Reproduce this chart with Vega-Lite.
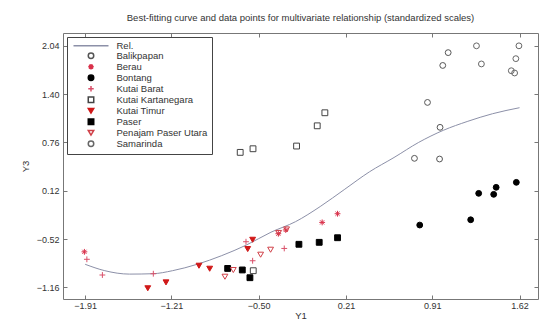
{
  "$schema": "https://vega.github.io/schema/vega-lite/v6.json",
  "width": 475,
  "height": 266,
  "autosize": {"type": "none"},
  "padding": {"left": 63, "top": 33, "right": 9, "bottom": 23},
  "background": "white",
  "title": {"text": "Best-fitting curve and data points for multivariate relationship (standardized scales)", "fontSize": 9.5, "font": "Liberation Sans", "fontWeight": "normal", "color": "#333", "offset": 10},
  "config": {
    "view": {"stroke": "#777", "strokeWidth": 1},
    "axis": {"labelFont": "Liberation Sans", "titleFont": "Liberation Sans", "labelFontSize": 9, "titleFontSize": 9.5, "titleFontWeight": "normal", "labelColor": "#333", "titleColor": "#333", "grid": false, "domain": false, "tickColor": "#777", "tickSize": -4},
    "legend": {"labelFont": "Liberation Sans", "labelFontSize": 9.5, "labelColor": "#333"}
  },
  "data": {"values": [
    {"series": "Rel.", "x": -1.91, "y": -0.855},
    {"series": "Rel.", "x": -1.75, "y": -0.94},
    {"series": "Rel.", "x": -1.55, "y": -0.985},
    {"series": "Rel.", "x": -1.36, "y": -0.98},
    {"series": "Rel.", "x": -1.2, "y": -0.94},
    {"series": "Rel.", "x": -1.0, "y": -0.855},
    {"series": "Rel.", "x": -0.8, "y": -0.74},
    {"series": "Rel.", "x": -0.6, "y": -0.6},
    {"series": "Rel.", "x": -0.4, "y": -0.43},
    {"series": "Rel.", "x": -0.2, "y": -0.29},
    {"series": "Rel.", "x": 0.0, "y": -0.09},
    {"series": "Rel.", "x": 0.2, "y": 0.14},
    {"series": "Rel.", "x": 0.4, "y": 0.37},
    {"series": "Rel.", "x": 0.6, "y": 0.56},
    {"series": "Rel.", "x": 0.8, "y": 0.76},
    {"series": "Rel.", "x": 1.0, "y": 0.92},
    {"series": "Rel.", "x": 1.2, "y": 1.04},
    {"series": "Rel.", "x": 1.4, "y": 1.14},
    {"series": "Rel.", "x": 1.62, "y": 1.22},
    {"series": "Balikpapan", "x": 0.766, "y": 0.549},
    {"series": "Balikpapan", "x": 0.97, "y": 0.54},
    {"series": "Balikpapan", "x": 0.974, "y": 0.96},
    {"series": "Balikpapan", "x": 0.872, "y": 1.29},
    {"series": "Balikpapan", "x": 0.996, "y": 1.78},
    {"series": "Balikpapan", "x": 1.04, "y": 1.95},
    {"series": "Berau", "x": -1.916, "y": -0.69},
    {"series": "Berau", "x": -0.34, "y": -0.45},
    {"series": "Berau", "x": -0.28, "y": -0.4},
    {"series": "Berau", "x": 0.016, "y": -0.3},
    {"series": "Berau", "x": 0.141, "y": -0.185},
    {"series": "Bontang", "x": 1.594, "y": 0.231},
    {"series": "Bontang", "x": 1.43, "y": 0.165},
    {"series": "Bontang", "x": 1.288, "y": 0.085},
    {"series": "Bontang", "x": 1.41, "y": 0.072},
    {"series": "Bontang", "x": 1.223, "y": -0.265},
    {"series": "Bontang", "x": 0.809, "y": -0.335},
    {"series": "Kutai Barat", "x": -1.896, "y": -0.789},
    {"series": "Kutai Barat", "x": -1.77, "y": -0.997},
    {"series": "Kutai Barat", "x": -1.356, "y": -0.98},
    {"series": "Kutai Barat", "x": -0.603, "y": -0.556},
    {"series": "Kutai Barat", "x": -0.549, "y": -0.808},
    {"series": "Kutai Barat", "x": -0.292, "y": -0.645},
    {"series": "Kutai Kartanegara", "x": 0.038, "y": 1.153},
    {"series": "Kutai Kartanegara", "x": -0.024, "y": 0.98},
    {"series": "Kutai Kartanegara", "x": -0.192, "y": 0.712},
    {"series": "Kutai Kartanegara", "x": -0.546, "y": 0.676},
    {"series": "Kutai Kartanegara", "x": -0.65, "y": 0.628},
    {"series": "Kutai Kartanegara", "x": -0.544, "y": -0.94},
    {"series": "Kutai Timur", "x": -1.401, "y": -1.173},
    {"series": "Kutai Timur", "x": -1.253, "y": -1.095},
    {"series": "Kutai Timur", "x": -0.985, "y": -0.874},
    {"series": "Kutai Timur", "x": -0.898, "y": -0.914},
    {"series": "Kutai Timur", "x": -0.589, "y": -0.653},
    {"series": "Kutai Timur", "x": -0.549, "y": -0.53},
    {"series": "Paser", "x": -0.752, "y": -0.91},
    {"series": "Paser", "x": -0.633, "y": -0.93},
    {"series": "Paser", "x": -0.571, "y": -1.033},
    {"series": "Paser", "x": -0.173, "y": -0.59},
    {"series": "Paser", "x": -0.008, "y": -0.564},
    {"series": "Paser", "x": 0.141, "y": -0.503},
    {"series": "Penajam Paser Utara", "x": -0.774, "y": -1.02},
    {"series": "Penajam Paser Utara", "x": -0.706, "y": -0.931},
    {"series": "Penajam Paser Utara", "x": -0.484, "y": -0.728},
    {"series": "Penajam Paser Utara", "x": -0.403, "y": -0.662},
    {"series": "Penajam Paser Utara", "x": -0.338, "y": -0.44},
    {"series": "Penajam Paser Utara", "x": -0.273, "y": -0.393},
    {"series": "Samarinda", "x": 1.27, "y": 2.04},
    {"series": "Samarinda", "x": 1.615, "y": 2.04},
    {"series": "Samarinda", "x": 1.59, "y": 1.87},
    {"series": "Samarinda", "x": 1.31, "y": 1.8},
    {"series": "Samarinda", "x": 1.553, "y": 1.71},
    {"series": "Samarinda", "x": 1.58, "y": 1.68}
  ]},
  "layer": [
    {
      "transform": [{"filter": "datum.series === 'Rel.'"}],
      "mark": {"type": "line", "strokeWidth": 1, "interpolate": "monotone"},
      "encoding": {
        "x": {"field": "x", "type": "quantitative", "scale": {"domain": [-2.09, 1.77], "nice": false, "zero": false}, "axis": {"orient": "bottom", "values": [-1.91, -1.21, -0.5, 0.21, 0.91, 1.62], "format": ".2f", "title": "Y1", "labelPadding": 6, "titlePadding": 0}},
        "y": {"field": "y", "type": "quantitative", "scale": {"domain": [-1.315, 2.21], "nice": false, "zero": false}, "axis": {"orient": "left", "values": [2.04, 1.4, 0.76, 0.12, -0.52, -1.16], "format": ".2f", "title": "Y3", "labelPadding": 8, "titlePadding": 6}},
        "stroke": {"field": "series", "type": "nominal", "scale": {"domain": ["Rel.", "Balikpapan", "Berau", "Bontang", "Kutai Barat", "Kutai Kartanegara", "Kutai Timur", "Paser", "Penajam Paser Utara", "Samarinda"], "range": ["#8c90a8", "#555555", "#d9304a", "#000000", "#d9506a", "#444444", "#d01818", "#000000", "#d04048", "#666666"]}, "legend": {"title": null, "orient": "top-left", "offset": 4, "padding": 4, "strokeColor": "#444", "fillColor": "white", "rowPadding": -2, "symbolSize": 30, "labelOffset": 36, "encode": {"symbols": {"update": {"size": {"signal": "datum.value === 'Rel.' ? 1225 : 30"}, "x": {"value": 20}}}}}}
      }
    },
    {
      "transform": [{"filter": "datum.series !== 'Rel.'"}],
      "mark": {"type": "point", "size": 34, "strokeWidth": 1, "opacity": 1},
      "encoding": {
        "x": {"field": "x", "type": "quantitative", "axis": {"orient": "top", "values": [-1.91, -1.21, -0.5, 0.21, 0.91, 1.62], "labels": false, "title": null}},
        "y": {"field": "y", "type": "quantitative", "axis": {"orient": "right", "values": [2.04, 1.4, 0.76, 0.12, -0.52, -1.16], "labels": false, "title": null}},
        "stroke": {"field": "series", "type": "nominal"},
        "fill": {"field": "series", "type": "nominal", "scale": {"domain": ["Rel.", "Balikpapan", "Berau", "Bontang", "Kutai Barat", "Kutai Kartanegara", "Kutai Timur", "Paser", "Penajam Paser Utara", "Samarinda"], "range": ["transparent", "transparent", "transparent", "#000000", "transparent", "transparent", "#d01818", "#000000", "transparent", "transparent"]}},
        "shape": {"field": "series", "type": "nominal", "scale": {"domain": ["Rel.", "Balikpapan", "Berau", "Bontang", "Kutai Barat", "Kutai Kartanegara", "Kutai Timur", "Paser", "Penajam Paser Utara", "Samarinda"], "range": ["stroke", "circle", "M-1,0L1,0M0,-1L0,1M-0.7,-0.7L0.7,0.7M-0.7,0.7L0.7,-0.7", "circle", "M-1,0L1,0M0,-1L0,1", "square", "triangle-down", "square", "triangle-down", "circle"]}}
      }
    }
  ],
  "resolve": {"axis": {"x": "independent", "y": "independent"}}
}
